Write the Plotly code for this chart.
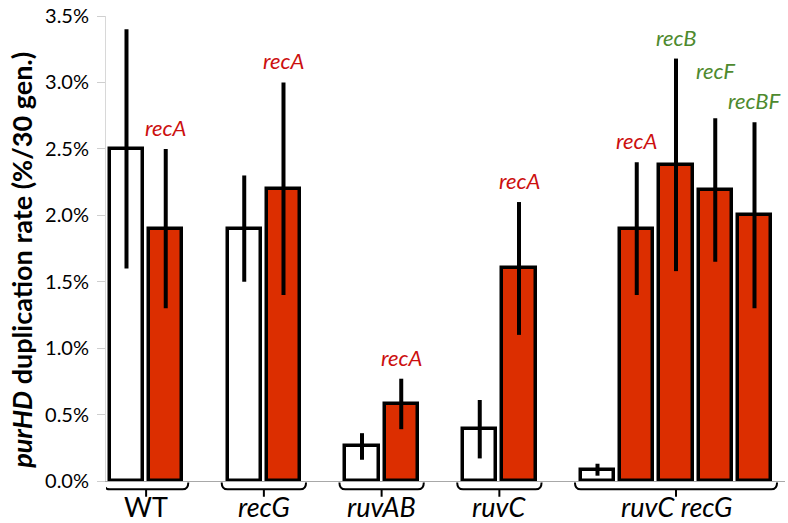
import plotly.graph_objects as go

# ---------------- data ----------------
groups = ["WT", "recG", "ruvAB", "ruvC", "ruvC recG"]
group_italic = [False, True, True, True, True]

parent_rate = [2.5, 1.9, 0.26, 0.39, 0.085]
parent_err = [0.9, 0.4, 0.1, 0.22, 0.045]

mutant_group = [0, 1, 2, 3, 4, 4, 4, 4]
mutant_label = ["recA", "recA", "recA", "recA", "recA", "recB", "recF", "recBF"]
mutant_rate = [1.9, 2.2, 0.58, 1.6, 1.9, 2.38, 2.19, 2.0]
mutant_err = [0.6, 0.8, 0.19, 0.5, 0.5, 0.8, 0.54, 0.7]

tick_vals = [0.0, 0.5, 1.0, 1.5, 2.0, 2.5, 3.0, 3.5]
tick_text = ["0.0%", "0.5%", "1.0%", "1.5%", "2.0%", "2.5%", "3.0%", "3.5%"]

y_title = "<b><i>purHD</i> duplication rate (%/30 gen.)</b>"

# ---------------- styles ----------------
RED_FILL = "#dc2e00"
RED_TEXT = "#cc0f0f"
GREEN_TEXT = "#4e8a2e"
label_color = {"recA": RED_TEXT, "recB": GREEN_TEXT, "recF": GREEN_TEXT, "recBF": GREEN_TEXT}
label_extra_shift = {6: 26}   # lift the "recF" label above its neighbour
FONT = "Lato, 'Open Sans', sans-serif"
BAR_W = 0.853

# slot positions (one slot per bar, one empty slot between groups)
parent_x, mutant_x = [], []
group_first, group_last = [], []
slot = 0
for g in range(len(groups)):
    parent_x.append(slot)
    group_first.append(slot)
    last = slot
    slot += 1
    for i, mg in enumerate(mutant_group):
        if mg == g:
            mutant_x.append(slot)
            last = slot
            slot += 1
    group_last.append(last)
    slot += 1

fig = go.Figure()
fig.add_trace(go.Bar(
    x=parent_x, y=parent_rate, width=BAR_W,
    marker=dict(color="white", line=dict(color="black", width=3.5)),
    error_y=dict(type="data", array=parent_err, visible=True,
                 color="black", thickness=4, width=0),
    showlegend=False, hoverinfo="y",
))
fig.add_trace(go.Bar(
    x=mutant_x, y=mutant_rate, width=BAR_W,
    marker=dict(color=RED_FILL, line=dict(color="black", width=3.5)),
    error_y=dict(type="data", array=mutant_err, visible=True,
                 color="black", thickness=4, width=0),
    showlegend=False, hoverinfo="y",
))

annotations = []
# mutation labels above error bars
for i, (x, v, e, lab) in enumerate(zip(mutant_x, mutant_rate, mutant_err, mutant_label)):
    annotations.append(dict(
        x=x, y=v + e, xref="x", yref="y", text="<i>%s</i>" % lab,
        showarrow=False, xanchor="center", yanchor="bottom",
        yshift=6 + label_extra_shift.get(i, 0),
        font=dict(family=FONT, size=22, color=label_color[lab]),
    ))

# plot geometry in px for paper conversions
PLOT_TOP, PLOT_BOTTOM = 8, 481
H = PLOT_BOTTOM - PLOT_TOP
def py(px):
    return (PLOT_BOTTOM - px) / H

shapes = []
for g, name in enumerate(groups):
    x0 = group_first[g] - 0.575
    x1 = group_last[g] + 0.575
    xc = (group_first[g] + group_last[g]) / 2
    yt, ym, yk = py(482.5), py(489.5), py(497)
    d = 0.15
    path = (f"M {x0},{yt} Q {x0},{ym} {x0 + d},{ym} L {x1 - d},{ym} "
            f"Q {x1},{ym} {x1},{yt} M {xc},{ym} L {xc},{yk}")
    shapes.append(dict(type="path", xref="x", yref="paper", path=path,
                       line=dict(color="black", width=2), layer="above"))
    txt = "<i>%s</i>" % name if group_italic[g] else name
    annotations.append(dict(
        x=xc, y=py(507), xref="x", yref="paper", text=txt, showarrow=False,
        xanchor="center", yanchor="middle",
        font=dict(family=FONT, size=27, color="black"),
    ))

# y axis title
annotations.append(dict(
    x=(22 - 106) / 679, y=py(257), xref="paper", yref="paper",
    text=y_title, textangle=-90, showarrow=False,
    xanchor="center", yanchor="middle",
    font=dict(family=FONT, size=27, color="black"),
))

fig.update_layout(
    width=788, height=523,
    margin=dict(l=106, r=3, t=PLOT_TOP, b=523 - PLOT_BOTTOM),
    paper_bgcolor="white", plot_bgcolor="white",
    bargap=0,
    xaxis=dict(range=[-0.522, 16.777], showticklabels=False, ticks="",
               showgrid=False, zeroline=False, showline=True,
               linecolor="#a8a8a8", linewidth=1, fixedrange=True),
    yaxis=dict(range=[0, 3.5005], tickvals=tick_vals, ticktext=tick_text,
               ticks="outside", ticklen=8, tickcolor="#cfcfcf", tickwidth=1,
               ticklabelstandoff=4, ticklabeloverflow="allow",
               showgrid=False, zeroline=False, showline=True,
               linecolor="#d8d8d8", linewidth=1,
               tickfont=dict(family=FONT, size=20, color="black"),
               fixedrange=True),
    shapes=shapes,
    annotations=annotations,
)

fig.write_html("out.html", config={"displayModeBar": False},
               post_script="document.body.style.margin='0';")
